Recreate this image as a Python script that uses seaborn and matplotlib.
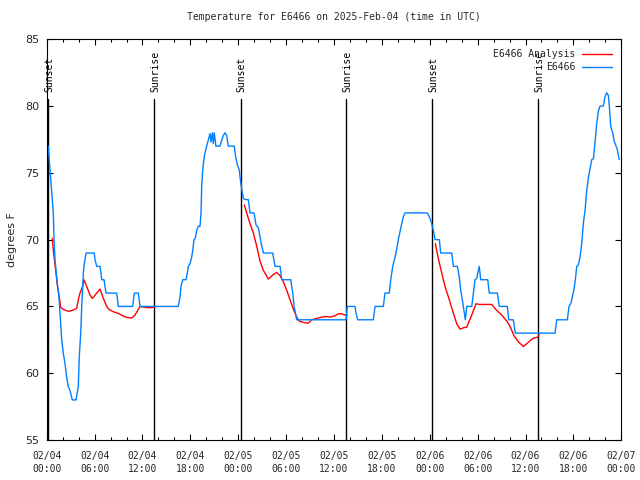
import numpy as np
import pandas as pd
import matplotlib
matplotlib.use("Agg")
import matplotlib.pyplot as plt
import seaborn as sns
from matplotlib.lines import Line2D

# ---------------- data (hours since 2025-02-04 00:00 UTC) ----------------
obs_hours = [0.2, 0.25, 0.42, 0.63, 0.83, 0.92, 1.04, 1.17, 1.33, 1.54, 1.67, 1.88, 2.08, 2.3, 2.5,
             2.7, 2.92, 3.2, 3.67, 3.96, 4.08, 4.26, 4.39, 4.59, 4.71, 4.93, 5.96, 6.05, 6.27, 6.68,
             6.9, 7.18, 7.43, 8.77, 8.98, 10.77, 10.98, 11.48, 11.69, 16.49, 16.7, 16.83, 17.04, 17.46,
             17.62, 17.75, 17.96, 18.17, 18.3, 18.46, 18.62, 18.8, 19.0, 19.21, 19.34, 19.42, 19.55,
             19.71, 19.84, 19.96, 20.13, 20.25, 20.46, 20.59, 20.76, 20.88, 21.0, 21.2, 21.72, 21.93,
             22.13, 22.34, 22.55, 22.76, 23.5, 23.68, 23.89, 24.14, 24.22, 24.43, 24.64, 24.85, 25.26,
             25.48, 25.98, 26.23, 26.52, 26.73, 26.85, 27.15, 28.32, 28.61, 29.24, 29.45, 30.58, 30.83,
             31.0, 31.33, 37.5, 37.67, 38.63, 38.76, 38.97, 40.93, 41.14, 42.18, 42.39, 42.93, 43.11,
             43.36, 43.56, 43.77, 44.06, 44.27, 44.49, 44.69, 44.9, 47.7, 48.03, 48.24, 48.45, 48.66,
             49.2, 49.37, 50.75, 50.96, 51.46, 51.7, 51.88, 52.08, 52.29, 52.46, 52.63, 53.26, 53.46,
             53.67, 53.88, 54.09, 54.2, 54.39, 55.26, 55.46, 56.47, 56.71, 57.72, 57.89, 58.47, 58.72,
             63.7, 63.91, 65.24, 65.45, 65.7, 65.87, 66.08, 66.24, 66.42, 66.62, 66.83, 67.04, 67.24,
             67.46, 67.67, 67.87, 68.08, 68.3, 68.5, 68.71, 68.92, 69.12, 69.33, 69.75, 69.96, 70.17,
             70.38, 70.5, 70.68, 70.93, 71.1, 71.35, 71.52, 71.73]
obs_temp = [77.0, 76.5, 75.2, 73.5, 72.0, 70.0, 68.5, 67.7, 66.7, 65.7, 64.5, 62.5, 61.5, 60.7, 59.7,
            59.0, 58.7, 58.0, 58.0, 59.0, 61.2, 63.0, 65.0, 67.5, 68.2, 69.0, 69.0, 68.5, 68.0, 68.0,
            67.0, 67.0, 66.0, 66.0, 65.0, 65.0, 66.0, 66.0, 65.0, 65.0, 65.7, 66.5, 67.0, 67.0,
            67.5, 68.0, 68.2, 68.7, 69.2, 70.0, 70.1, 70.7, 71.0, 71.0, 72.0, 74.0, 75.2,
            76.1, 76.5, 76.8, 77.2, 77.45, 77.95, 77.3, 78.0, 77.2, 78.0, 77.0, 77.0, 77.45,
            77.8, 78.0, 77.8, 77.0, 77.0, 76.2, 75.6, 75.2, 74.7, 73.8, 73.1, 73.0, 73.0,
            72.0, 72.0, 71.1, 70.9, 70.2, 69.8, 69.0, 69.0, 68.0, 68.0, 67.0, 67.0, 66.0,
            65.0, 64.0, 64.0, 65.0, 65.0, 64.5, 64.0, 64.0, 65.0, 65.0, 66.0, 66.0, 67.0,
            68.0, 68.5, 69.0, 70.0, 70.6, 71.2, 71.7, 72.0, 72.0, 71.6, 71.2, 70.7, 70.0,
            70.0, 69.0, 69.0, 68.0, 68.0, 67.2, 66.2, 65.5, 64.7, 64.0, 65.0, 65.0, 66.0,
            67.0, 67.1, 67.7, 68.0, 67.0, 67.0, 66.0, 66.0, 65.0, 65.0, 64.0, 64.0, 63.0,
            63.0, 64.0, 64.0, 65.0, 65.25, 65.75, 66.3, 67.0, 68.0, 68.1, 68.7, 69.7, 71.2,
            72.2, 73.7, 74.6, 75.3, 76.0, 76.05, 77.3, 78.7, 79.6, 80.0, 80.0, 80.7, 81.0,
            80.8, 80.0, 78.45, 78.0, 77.4, 77.0, 76.7, 76.0]

ana_night1_hours = [0.7, 0.83, 1.13, 1.33, 1.54, 1.75, 2.08, 2.71, 3.34, 3.76, 3.96, 4.17, 4.51, 4.67,
                    5.01, 5.43, 5.72, 6.27, 6.68, 7.1, 7.52, 7.8, 8.35, 8.97, 9.52, 10.03, 10.65,
                    11.07, 11.69, 12.32, 12.94, 13.57]
ana_night1_temp = [70.1, 69.2, 67.7, 66.6, 65.85, 64.93, 64.78, 64.63, 64.73, 64.86, 65.5, 66.0, 66.5,
                   67.0, 66.5, 65.85, 65.6, 66.0, 66.3, 65.6, 65.0, 64.78, 64.6, 64.48, 64.3, 64.18,
                   64.13, 64.36, 65.0, 64.93, 64.9, 64.97]
ana_night2_hours = [24.76, 25.06, 25.48, 25.89, 26.32, 26.73, 27.15, 27.77, 28.32, 28.82, 29.24, 29.65,
                    30.08, 30.49, 30.9, 31.33, 31.65, 32.16, 32.78, 33.2, 33.83, 34.46, 35.09, 35.5,
                    36.13, 36.55, 36.97, 37.38, 37.67]
ana_night2_temp = [72.6, 72.0, 71.2, 70.5, 69.5, 68.4, 67.7, 67.05, 67.35, 67.55, 67.3, 66.85, 66.2,
                   65.5, 64.8, 64.2, 63.9, 63.8, 63.75, 64.0, 64.1, 64.2, 64.25, 64.2, 64.3, 64.45,
                   64.45, 64.35, 64.35]
ana_night3_hours = [48.7, 49.07, 49.5, 49.91, 50.45, 50.96, 51.38, 51.79, 52.21, 52.63, 53.26, 53.8,
                    54.21, 55.76, 56.39, 57.02, 57.72, 58.06, 58.56, 59.1, 59.73, 60.23, 60.9, 61.48,
                    61.69]
ana_night3_temp = [69.7, 68.6, 67.5, 66.5, 65.5, 64.5, 63.7, 63.3, 63.4, 63.45, 64.36, 65.2, 65.15,
                   65.15, 64.7, 64.35, 63.85, 63.5, 62.8, 62.35, 62.0, 62.25, 62.6, 62.7, 62.85]

event_hours = [0.2, 13.5, 24.3, 37.5, 48.3, 61.6]
event_labels = ["Sunset", "Sunrise", "Sunset", "Sunrise", "Sunset", "Sunrise"]

xtick_hours = [0, 6, 12, 18, 24, 30, 36, 42, 48, 54, 60, 66, 72]
xtick_labels = ["02/04\n00:00", "02/04\n06:00", "02/04\n12:00", "02/04\n18:00",
                "02/05\n00:00", "02/05\n06:00", "02/05\n12:00", "02/05\n18:00",
                "02/06\n00:00", "02/06\n06:00", "02/06\n12:00", "02/06\n18:00",
                "02/07\n00:00"]
ytick_values = [55, 60, 65, 70, 75, 80, 85]

title_text = "Temperature for E6466 on 2025-Feb-04 (time in UTC)"
ylabel_text = "degrees F"
series_names = ["E6466 Analysis", "E6466"]
series_colors = ["#ff0000", "#0080ff"]

# ---------------- frames ----------------
obs_df = pd.DataFrame({"hour": obs_hours, "temp": obs_temp})
ana_df = pd.concat([
    pd.DataFrame({"hour": ana_night1_hours, "temp": ana_night1_temp, "seg": 1}),
    pd.DataFrame({"hour": ana_night2_hours, "temp": ana_night2_temp, "seg": 2}),
    pd.DataFrame({"hour": ana_night3_hours, "temp": ana_night3_temp, "seg": 3}),
], ignore_index=True)

# ---------------- style ----------------
sns.set_theme(style="ticks")
plt.rcParams["font.family"] = ["DejaVu Sans Mono", "DejaVu Sans"]
plt.rcParams["axes.linewidth"] = 0.8
plt.rcParams["axes.edgecolor"] = "black"

fig = plt.figure(figsize=(6.4, 4.8), dpi=100)
ax = fig.add_axes([46.7 / 640, 40 / 480, (621.3 - 46.7) / 640, (440 - 39.3) / 480])

for h in event_hours:
    ax.plot([h, h], [55, 80.55], color="black", lw=1.0, zorder=1)
for h, lab in zip(event_hours, event_labels):
    ax.text(h + 0.12, 81.05, lab, rotation=90, ha="center", va="bottom",
            fontsize=7, family="DejaVu Sans Mono", color="black", zorder=3)

sns.lineplot(data=ana_df, x="hour", y="temp", units="seg", estimator=None, sort=False,
             color=series_colors[0], lw=1.0, ax=ax, legend=False, zorder=2)
sns.lineplot(data=obs_df, x="hour", y="temp", estimator=None, sort=False,
             color=series_colors[1], lw=1.0, ax=ax, legend=False, zorder=2.5)

ax.set_xlim(0, 72)
ax.set_ylim(55, 85)
ax.set_xticks(xtick_hours)
ax.set_xticklabels(xtick_labels, fontsize=7, family="DejaVu Sans Mono", linespacing=1.35)
ax.set_xticks(np.arange(0, 73, 2), minor=True)
ax.set_yticks(ytick_values)
ax.set_yticklabels([str(v) for v in ytick_values], fontsize=8, family="DejaVu Sans")
ax.tick_params(axis="both", which="both", direction="in", top=True, right=True, color="black")
ax.tick_params(axis="x", which="major", length=4.5, width=0.8, pad=8)
ax.tick_params(axis="x", which="minor", length=2.2, width=0.8)
ax.tick_params(axis="y", which="major", length=4.5, width=0.8, pad=5.5)
ax.set_xlabel("")
ax.set_ylabel(ylabel_text, fontsize=8, family="DejaVu Sans", labelpad=6)
ax.set_title(title_text, fontsize=7, family="DejaVu Sans Mono", pad=14)
for s in ax.spines.values():
    s.set_visible(True)
    s.set_color("black")

handles = [Line2D([0], [0], color=c, lw=1.0) for c in series_colors]
leg = ax.legend(handles, series_names, loc="upper right", frameon=False, markerfirst=False,
                prop={"family": "DejaVu Sans Mono", "size": 7}, handlelength=3.0,
                handletextpad=0.7, labelspacing=0.3, borderaxespad=0.6)

fig.savefig("out.png", dpi=100)
